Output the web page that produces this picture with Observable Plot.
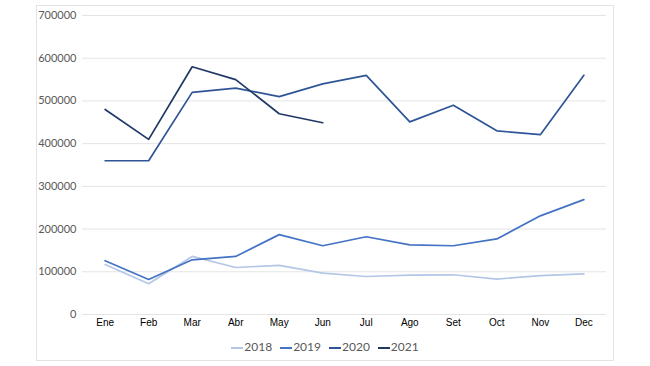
<!DOCTYPE html>
<html>
<head>
<meta charset="utf-8">
<script src="https://cdn.jsdelivr.net/npm/d3@7"></script>
<script src="https://cdn.jsdelivr.net/npm/@observablehq/plot@0.6"></script>
<style>
  body { margin: 0; background: #fff; width: 650px; height: 366px; overflow: hidden; position: relative; }
  #frame { position: absolute; left: 36px; top: 5px; width: 576px; height: 354px; border: 1px solid #e3e3e3; box-sizing: content-box; }
  #chart { position: absolute; left: 0; top: 0; }
  #legend { position: absolute; left: 0; top: 339px; width: 650px; text-align: center; font-family: Lato, "Open Sans", sans-serif; font-size: 12px; color: #595959; }
  #legend span.item { display: inline-block; margin: 0 4px; }
  #legend span.sw { display: inline-block; width: 12px; height: 2px; vertical-align: middle; margin-right: 1px; }
</style>
</head>
<body>
<div id="frame"></div>
<div id="chart"></div>
<div id="legend"></div>
<script>
const months = ["Ene","Feb","Mar","Abr","May","Jun","Jul","Ago","Set","Oct","Nov","Dec"];
const years = ["2018","2019","2020","2021"];
const colors = ["#b4c7e7","#4472c4","#2f5597","#1f3864"];
const v2018 = [117000, 72000, 136000, 110000, 115000, 97000, 89000, 92000, 93000, 83000, 91000, 95000];
const v2019 = [126000, 82000, 128000, 136000, 187000, 161000, 182000, 163000, 161000, 177000, 231000, 269000];
const v2020 = [360000, 360000, 520000, 530000, 510000, 540000, 560000, 451000, 490000, 430000, 421000, 560000];
const v2021 = [480000, 410000, 580000, 550000, 470000, 449000];
const yTicks = [0, 100000, 200000, 300000, 400000, 500000, 600000, 700000];

const series = [v2018, v2019, v2020, v2021];
const data = [];
series.forEach((arr, i) => arr.forEach((v, j) => data.push({year: years[i], month: months[j], value: v})));

const chart = Plot.plot({
  width: 650,
  height: 335,
  marginTop: 15,
  marginBottom: 21,
  marginLeft: 82,
  marginRight: 44,
  style: { fontFamily: "Lato, 'Open Sans', sans-serif", background: "transparent" },
  x: { type: "point", domain: months, padding: 0.52, round: false, label: null },
  y: { domain: [0, 700000], label: null },
  color: { domain: years, range: colors },
  marks: [
    Plot.gridY(yTicks, { stroke: "#e4e4e4", strokeOpacity: 1 }),
    Plot.axisY(yTicks, { tickSize: 0, tickPadding: 6, tickFormat: d => String(d), fontSize: 11, fill: "#595959", label: null }),
    Plot.axisX(months, { tickSize: 0, tickPadding: 4, fontSize: 10, fontFamily: "'Liberation Sans', Arial, sans-serif", fill: "#000", label: null }),
    Plot.line(data, { x: "month", y: "value", z: "year", stroke: "year", strokeWidth: 1.7 })
  ]
});
document.getElementById("chart").appendChild(chart);

const legend = document.getElementById("legend");
years.forEach((y, i) => {
  const item = document.createElement("span");
  item.className = "item";
  item.innerHTML = `<span class="sw" style="background:${colors[i]}"></span>${y}`;
  legend.appendChild(item);
});
</script>
</body>
</html>
